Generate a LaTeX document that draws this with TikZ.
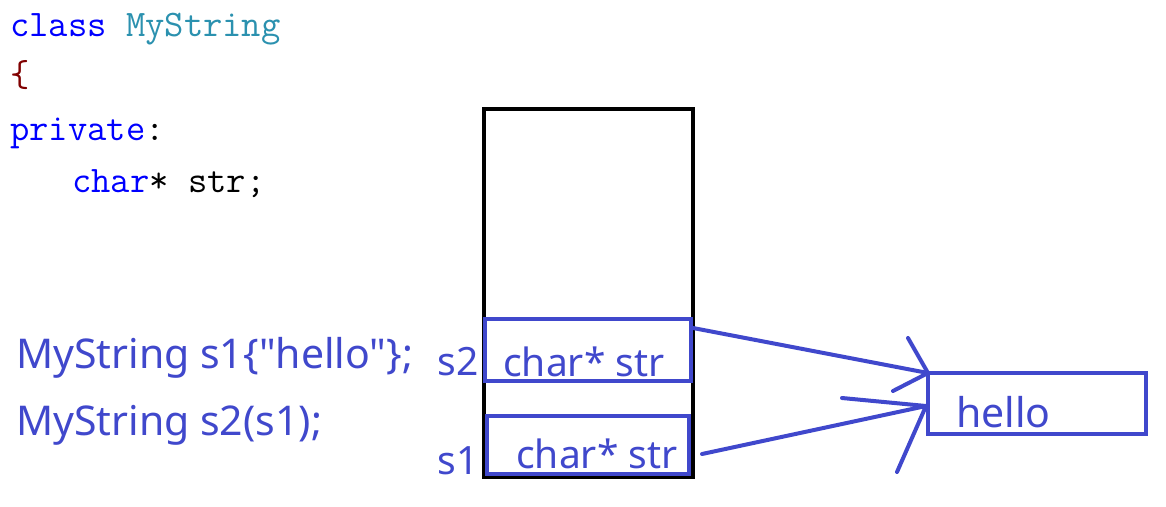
\documentclass[tikz,border=0pt]{standalone}
\usepackage{fontspec}
\newfontfamily\handfont{Noto Sans}
\definecolor{pen}{RGB}{64,72,204}
\definecolor{kw}{RGB}{0,0,255}
\definecolor{ty}{RGB}{43,145,175}
\definecolor{br}{RGB}{128,0,0}
\begin{document}
\begin{tikzpicture}[x=1pt,y=-1pt,
  code/.style={anchor=base west,inner sep=0pt,font=\ttfamily\fontsize{37.5}{40}\selectfont},
  hand/.style={anchor=base west,inner sep=0pt,text=pen,font=\handfont\fontsize{41}{44}\selectfont},
  boxtext/.style={hand,font=\handfont\fontsize{39}{42}\selectfont},
  penbox/.style={draw=pen,line width=4.6pt},
  penline/.style={draw=pen,line width=4pt,line cap=round}]
\useasboundingbox (0,0) rectangle (1166,506);
% code
\node[code] (l1) at (10,36) {\textcolor{kw}{class} \textcolor{ty}{MyString}};
\node[code] (l2) at (10,86) {\textcolor{br}{\{}};
\node[code] (l3) at (10,140) {\textcolor{kw}{private}:};
\node[code] (l4) at (72,192) {\textcolor{kw}{char}* str;};
% statements
\node[hand] (st1) at (16,368) {MyString s1\{"hello"\};};
\node[hand] (st2) at (16,435) {MyString s2(s1);};
% stack
\draw[line width=4.6pt] (484,109) rectangle (693,477);
\draw[penbox] (485,319) rectangle (691,381);
\draw[penbox] (487,416) rectangle (689,474);
\node[boxtext] (c2) at (503,376) {char* str};
\node[boxtext] (c1) at (516,468) {char* str};
\node[boxtext,anchor=base east] (s2) at (479,375) {s2};
\node[boxtext,anchor=base east] (s1) at (479,474) {s1};
% heap
\draw[penbox] (928,373) rectangle (1146,434);
\node[hand] (h) at (956,427) {hello};
% arrows
\coordinate (a1s) at (693,328);
\coordinate (a1e) at (928,373);
\coordinate (a1b1) at (908,338);
\coordinate (a1b2) at (893,391);
\draw[penline] (a1s) -- (a1e);
\draw[penline] (a1b1) -- (a1e) -- (a1b2);
\coordinate (a2s) at (702,454);
\coordinate (a2e) at (926,406);
\coordinate (a2b1) at (842,398);
\coordinate (a2b2) at (897,472);
\draw[penline] (a2s) -- (a2e);
\draw[penline] (a2b1) -- (a2e) -- (a2b2);
\end{tikzpicture}
\end{document}
